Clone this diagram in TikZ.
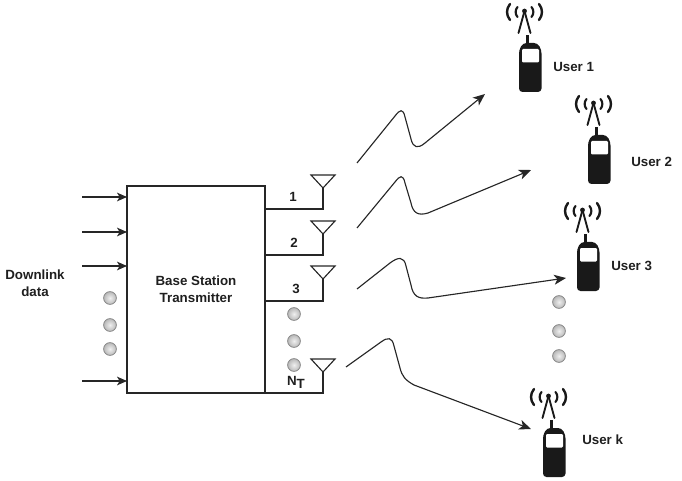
\documentclass[tikz,border=0pt]{standalone}
\usepackage{fontspec}
\setmainfont{Liberation Sans}
\usetikzlibrary{arrows.meta,positioning}
\tikzset{
  lbl/.style={font=\fontsize{10pt}{12.75pt}\selectfont\bfseries, text=black!88, inner sep=0pt, align=center},
  wire/.style={line width=0.85pt, draw=black!85},
  inarrow/.style={line width=0.85pt, draw=black!85, -{Stealth[length=7.5pt,width=6.5pt,inset=2pt]}},
  signal/.style={line width=0.85pt, draw=black!85, -{Stealth[length=9pt,width=7.5pt,inset=2.5pt]}},
  ball/.style={circle, minimum size=9.6pt, inner sep=0pt, draw=black!50, line width=0.55pt, inner color=black!6, outer color=black!28},
  txbox/.style={draw=black!85, line width=0.85pt, inner sep=0pt, minimum width=103.5pt, minimum height=155.25pt, lbl},
  antenna/.style={line width=0.85pt, draw=black!85},
  phone/.pic={
    \fill[black!90,rounded corners=2.6pt] (0,49) -- (0,7) -- (4,0) -- (18.5,0) -- (22.5,7) -- (22.5,49) -- cycle;
    \fill[black!90] (6.5,2) rectangle (9.5,-8);
    \fill[white,rounded corners=0.8pt] (3,6) rectangle (20,19.5);
    \begin{scope}[line width=1.4pt, draw=black!90, line cap=round]
      \fill[black!90] (5.5,-32) circle (2.4);
      \draw (5.5,-32) -- (-0.5,-10);
      \draw (5.5,-32) -- (11.5,-10);
      \draw[line width=1.6pt] (-1.5,-36) .. controls (-4,-33) and (-4,-29) .. (-1.5,-26);
      \draw[line width=1.6pt] (12.5,-36) .. controls (15,-33) and (15,-29) .. (12.5,-26);
      \draw[line width=1.8pt] (-9,-39) .. controls (-13,-34) and (-13,-28) .. (-9,-23);
      \draw[line width=1.8pt] (20,-39) .. controls (24,-34) and (24,-28) .. (20,-23);
    \end{scope}
  },
  antennaglyph/.pic={
    \draw[antenna] (-12,0) -- (12,0) -- (0,13) -- cycle;
  }
}
\begin{document}
\begin{tikzpicture}[x=0.75pt,y=-0.75pt]
\useasboundingbox (0,0) rectangle (682,481);
% base station
\node[txbox] (bs) at (196,289.5) {Base Station\\Transmitter};
% inputs
\coordinate (i1) at (82,197); \coordinate (j1) at (127,197);
\coordinate (i2) at (82,232); \coordinate (j2) at (127,232);
\coordinate (i3) at (82,266); \coordinate (j3) at (127,266);
\coordinate (i4) at (82,381); \coordinate (j4) at (127,381);
\draw[inarrow] (i1) -- (j1);
\draw[inarrow] (i2) -- (j2);
\draw[inarrow] (i3) -- (j3);
\draw[inarrow] (i4) -- (j4);
\node[lbl] (dl) at (35,283.5) {Downlink\\data};
\node[ball] (l1) at (110,298) {};
\node[ball] (l2) at (110,325) {};
\node[ball] (l3) at (110,349) {};
% antennas
\foreach \n/\t/\b in {a1/175/209, a2/221/255, a3/266/301, a4/359/393}{
  \pic at (323,\t) {antennaglyph};
  \coordinate (\n) at (323,\t+13);
  \coordinate (\n b) at (323,\b);
  \coordinate (\n s) at (265.5,\b);
  \draw[wire] (\n) -- (\n b) -- (\n s);
}
\node[lbl] (n1) at (293,197) {1};
\node[lbl] (n2) at (294,243) {2};
\node[lbl] (n3) at (296,289) {3};
\node[lbl] (n4) at (296,382) {N\raisebox{-2.2pt}{T}};
\node[ball] (m1) at (294,314) {};
\node[ball] (m2) at (294,341) {};
\node[ball] (m3) at (294,365) {};
% signals
\coordinate (s1) at (357,163); \coordinate (e1) at (485,94);
\coordinate (s2) at (357,228); \coordinate (e2) at (531,170);
\coordinate (s3) at (357,289); \coordinate (e3) at (566,278);
\coordinate (s4) at (346,367); \coordinate (e4) at (531,429);
\draw[signal] (s1) -- (395,116) .. controls (400,109.5) and (403,108) .. (405,117) -- (411,139) .. controls (413,148) and (418,149) .. (425,143) -- (e1);
\draw[signal] (s2) -- (395,182) .. controls (400,175.5) and (403,174) .. (405,183) -- (411,203) .. controls (413,213) and (418,216) .. (428,213) -- (e2);
\draw[signal] (s3) -- (390,263) .. controls (398,257) and (404,256) .. (406,266) -- (411,285) .. controls (413,296) and (418,299) .. (428,298) -- (e3);
\draw[signal] (s4) -- (381,342) .. controls (388,337) and (392,337) .. (394,346) -- (400,368) .. controls (402,376) and (405,380) .. (414,385) -- (e4);
% users
\pic at (519,43) {phone};
\pic at (588,135) {phone};
\pic at (577,242) {phone};
\pic at (543,428) {phone};
\node[lbl,anchor=west] (u1) at (553,67) {User 1};
\node[lbl,anchor=west] (u2) at (631,162) {User 2};
\node[lbl,anchor=west] (u3) at (611,266) {User 3};
\node[lbl,anchor=west] (u4) at (582,440) {User k};
\node[ball] (r1) at (559,302) {};
\node[ball] (r2) at (559,331) {};
\node[ball] (r3) at (559,356) {};
\end{tikzpicture}
\end{document}
